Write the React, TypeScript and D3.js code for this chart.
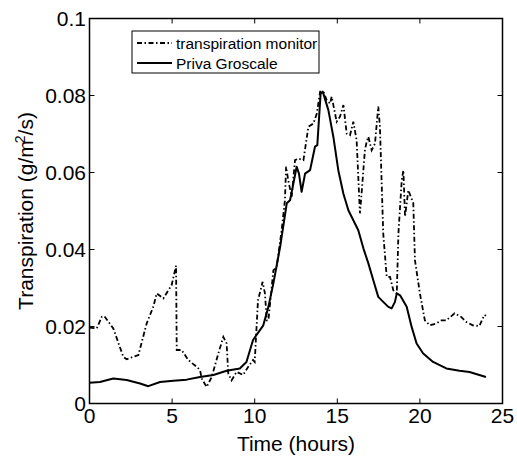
import React, { useEffect, useRef } from "react";
import * as d3 from "d3";

const monitorHours = [0, 0.44, 0.74, 0.9, 1.44, 2.05, 2.25, 2.96, 3.46, 3.86, 4.07, 4.47, 4.77, 4.97, 5.24, 5.28, 5.58, 5.98, 6.49, 6.69, 6.79, 7.09, 7.4, 7.8, 8.1, 8.3, 8.4, 8.6, 8.9, 9.3, 9.6, 9.9, 10.0, 10.2, 10.48, 10.62, 10.73, 10.83, 11.13, 11.33, 11.63, 11.83, 11.9, 12.03, 12.24, 12.44, 12.64, 12.95, 13.25, 13.55, 13.76, 13.96, 14.16, 14.36, 14.56, 14.66, 14.96, 15.16, 15.37, 15.57, 15.77, 15.97, 16.17, 16.37, 16.47, 16.67, 16.78, 16.88, 17.08, 17.28, 17.48, 17.58, 17.78, 17.99, 18.19, 18.39, 18.6, 18.7, 18.9, 19.0, 19.1, 19.3, 19.6, 19.7, 20.0, 20.3, 20.6, 21.0, 21.3, 21.6, 22.1, 22.5, 22.8, 23.2, 23.6, 23.9, 24.0];
const monitorValues = [0.0197, 0.0195, 0.0225, 0.0227, 0.0195, 0.0121, 0.0115, 0.0126, 0.0208, 0.0251, 0.0286, 0.0273, 0.0294, 0.0307, 0.0358, 0.0139, 0.0139, 0.0113, 0.0095, 0.0087, 0.0065, 0.0043, 0.0069, 0.013, 0.0173, 0.0156, 0.0078, 0.006, 0.0082, 0.0074, 0.0095, 0.0113, 0.0108, 0.0268, 0.0316, 0.0286, 0.0216, 0.0216, 0.0346, 0.0355, 0.045, 0.0528, 0.0615, 0.058, 0.0537, 0.0632, 0.0636, 0.0632, 0.0719, 0.0727, 0.0753, 0.081, 0.081, 0.0788, 0.0779, 0.0797, 0.0732, 0.0745, 0.0775, 0.0701, 0.0697, 0.0732, 0.0684, 0.0494, 0.0545, 0.0658, 0.068, 0.0693, 0.0658, 0.0675, 0.0771, 0.0719, 0.0442, 0.0329, 0.0329, 0.0294, 0.0286, 0.0442, 0.058, 0.0606, 0.0485, 0.0554, 0.052, 0.0372, 0.0286, 0.0216, 0.0203, 0.0208, 0.0216, 0.0216, 0.0234, 0.0225, 0.0212, 0.0203, 0.0201, 0.023, 0.0228];

const grosHours = [0, 0.63, 1.44, 2.25, 3.06, 3.56, 4.27, 5.07, 5.88, 6.69, 7.5, 8.3, 9.1, 9.5, 9.9, 10.52, 10.83, 11.13, 11.54, 11.94, 12.14, 12.34, 12.54, 12.68, 12.84, 13.05, 13.35, 13.65, 13.79, 13.99, 14.12, 14.46, 14.76, 15.06, 15.37, 15.67, 15.97, 16.27, 16.58, 16.88, 17.18, 17.48, 17.78, 18.09, 18.29, 18.49, 18.6, 18.8, 19.2, 19.5, 19.8, 20.2, 20.8, 21.6, 22.4, 23.0, 23.6, 24.0];
const grosValues = [0.0054, 0.0056, 0.0065, 0.0061, 0.0052, 0.0045, 0.0056, 0.0059, 0.0062, 0.0069, 0.0074, 0.0085, 0.0091, 0.0108, 0.0165, 0.0203, 0.0251, 0.0312, 0.0407, 0.052, 0.0528, 0.0571, 0.0615, 0.0597, 0.055, 0.0597, 0.0606, 0.0667, 0.0671, 0.0805, 0.081, 0.0762, 0.0693, 0.0606, 0.0545, 0.0502, 0.0476, 0.045, 0.0403, 0.0364, 0.032, 0.0277, 0.0264, 0.0251, 0.0247, 0.0264, 0.0286, 0.0281, 0.0251, 0.0199, 0.0156, 0.013, 0.0108, 0.0091, 0.0085, 0.0082, 0.0074, 0.0069];

const xTicks = [0, 5, 10, 15, 20, 25];
const yTicks = [0, 0.02, 0.04, 0.06, 0.08, 0.1];
const yTickLabels = ["0", "0.02", "0.04", "0.06", "0.08", "0.1"];
const seriesNames = ["transpiration monitor", "Priva Groscale"];

const W = 517, H = 456;
const M = { left: 89.5, right: 502.5, top: 18.5, bottom: 403.5 };
const FONT = "'Liberation Sans', Arial, sans-serif";
const DASHDOT = "5,2.5,1.5,2.5";

export default function App() {
  const ref = useRef<SVGSVGElement>(null);
  useEffect(() => {
    const svg = d3.select(ref.current);
    svg.selectAll("*").remove();
    const x = d3.scaleLinear().domain([0, 25]).range([M.left, M.right]);
    const y = d3.scaleLinear().domain([0, 0.1]).range([M.bottom, M.top]);

    const line = d3.line<[number, number]>().x(d => x(d[0])).y(d => y(d[1]));
    const mon = monitorHours.map((h, i) => [h, monitorValues[i]] as [number, number]);
    const gro = grosHours.map((h, i) => [h, grosValues[i]] as [number, number]);

    svg.append("path").attr("d", line(gro)!).attr("fill", "none")
      .attr("stroke", "#000").attr("stroke-width", 2).attr("stroke-linejoin", "round");
    svg.append("path").attr("d", line(mon)!).attr("fill", "none")
      .attr("stroke", "#000").attr("stroke-width", 1.8).attr("stroke-dasharray", DASHDOT);

    // box
    svg.append("rect").attr("x", M.left).attr("y", M.top)
      .attr("width", M.right - M.left).attr("height", M.bottom - M.top)
      .attr("fill", "none").attr("stroke", "#000").attr("stroke-width", 1.5);

    const tl = 5;
    xTicks.forEach(t => {
      const xx = x(t);
      svg.append("line").attr("x1", xx).attr("x2", xx).attr("y1", M.bottom).attr("y2", M.bottom - tl).attr("stroke", "#000");
      svg.append("line").attr("x1", xx).attr("x2", xx).attr("y1", M.top).attr("y2", M.top + tl).attr("stroke", "#000");
      svg.append("text").attr("x", xx).attr("y", 423).attr("text-anchor", "middle")
        .attr("font-family", FONT).attr("font-size", 21).text(String(t));
    });
    yTicks.forEach((t, i) => {
      const yy = y(t);
      svg.append("line").attr("x1", M.left).attr("x2", M.left + tl).attr("y1", yy).attr("y2", yy).attr("stroke", "#000");
      svg.append("line").attr("x1", M.right).attr("x2", M.right - tl).attr("y1", yy).attr("y2", yy).attr("stroke", "#000");
      svg.append("text").attr("x", 86).attr("y", yy + 7.5).attr("text-anchor", "end")
        .attr("font-family", FONT).attr("font-size", 21).text(yTickLabels[i]);
    });

    svg.append("text").attr("x", (M.left + M.right) / 2).attr("y", 451).attr("text-anchor", "middle")
      .attr("font-family", FONT).attr("font-size", 21).text("Time (hours)");

    const yl = svg.append("text").attr("transform", `translate(33,${(M.top + M.bottom) / 2}) rotate(-90)`)
      .attr("text-anchor", "middle").attr("font-family", FONT).attr("font-size", 21);
    yl.append("tspan").text("Transpiration (g/m");
    yl.append("tspan").attr("dy", -8).attr("dx", -3).attr("font-size", 14).text("2");
    yl.append("tspan").attr("dy", 8).text("/s)");

    // legend
    const lg = svg.append("g");
    const defs = svg.append("defs");
    defs.append("clipPath").attr("id", "lgclip").append("rect")
      .attr("x", 132).attr("y", 31).attr("width", 187).attr("height", 42);
    lg.append("rect").attr("x", 132).attr("y", 31).attr("width", 187).attr("height", 42)
      .attr("fill", "#fff").attr("stroke", "none");
    const rows = [43, 63];
    const gc = lg.append("g").attr("clip-path", "url(#lgclip)");
    seriesNames.forEach((n, i) => {
      gc.append("line").attr("x1", 137).attr("x2", 172).attr("y1", rows[i]).attr("y2", rows[i])
        .attr("stroke", "#000").attr("stroke-width", i === 0 ? 1.8 : 2)
        .attr("stroke-dasharray", i === 0 ? DASHDOT : null);
      gc.append("text").attr("x", 176).attr("y", rows[i] + 5.5).attr("font-family", FONT)
        .attr("font-size", 15.5).text(n);
    });
    lg.append("rect").attr("x", 132).attr("y", 31).attr("width", 187).attr("height", 42)
      .attr("fill", "none").attr("stroke", "#000").attr("stroke-width", 1);
  }, []);
  return (
    <svg ref={ref} width={W} height={H} style={{ position: "absolute", left: 0, top: 0, background: "#fff" }} />
  );
}
